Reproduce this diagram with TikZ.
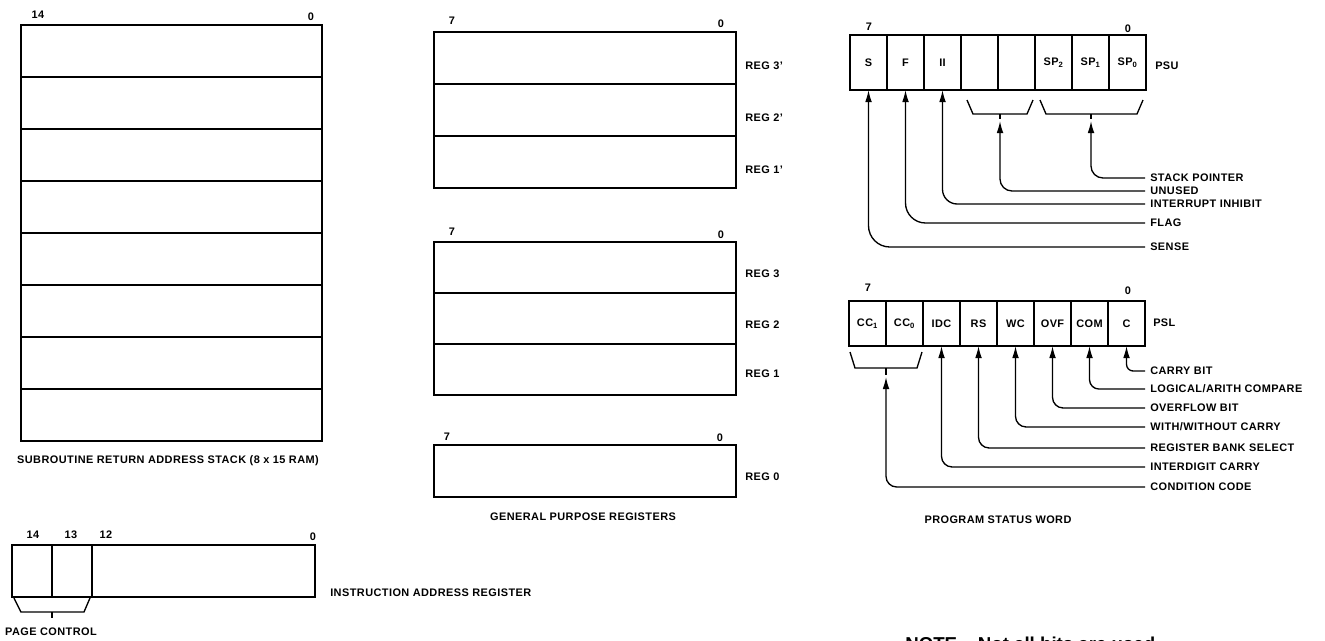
\documentclass[tikz,border=0pt]{standalone}
\usepackage{fontspec}
\setmainfont{Liberation Sans}
\newfontfamily\labfont[LetterSpace=4]{Liberation Sans}
\usetikzlibrary{arrows.meta}
\begin{document}
\begin{tikzpicture}[x=0.75pt,y=-0.75pt,
  lab/.style={font=\labfont\bfseries\fontsize{8.2}{9.6}\selectfont, inner sep=0pt},
  rl/.style={lab, anchor=west, inner xsep=3.75pt},
  cell/.style={draw, line width=1.5pt, inner sep=0pt, outer sep=0pt, anchor=north west,
    font=\labfont\bfseries\fontsize{8.2}{9.6}\selectfont},
  conn/.style={line width=1pt},
  arr/.style={conn, -{Latex[length=9pt,width=5pt]}},
  ]
\useasboundingbox (0,0) rectangle (1325,640);
\clip (0,0) rectangle (1325,640);

% ---------- subroutine return address stack ----------
\foreach \k in {0,...,7}
  \node[cell, minimum width=225.75pt, minimum height=39pt] (st\k) at (21,{25+52*\k}) {};
\node[lab] (stb14) at (38,15) {14};
\node[lab] (stb0) at (311,17) {0};
\node[lab] (stcap) at (168,461) {SUBROUTINE RETURN ADDRESS STACK (8 x 15 RAM)};

% ---------- instruction address register ----------
\node[cell, minimum width=30pt, minimum height=39pt] (ia14) at (12,545) {};
\node[cell, minimum width=30pt, minimum height=39pt] (ia13) at (52,545) {};
\node[cell, minimum width=167.25pt, minimum height=39pt] (ia12) at (92,545) {};
\node[lab] (iab14) at (33,535) {14};
\node[lab] (iab13) at (71,535) {13};
\node[lab] (iab12) at (106,535) {12};
\node[lab] (iab0) at (313,537) {0};
\node[lab, anchor=west] (iarlab) at (330,593) {INSTRUCTION ADDRESS REGISTER};
\draw[conn] (14,598) -- (21,612) -- (84,612) -- (90,598);
\coordinate (pcc) at (52,618);
\draw[conn] (52,612) -- (pcc);
\node[lab] (pclab) at (51,632) {PAGE CONTROL};

% ---------- general purpose registers ----------
\node[cell, minimum width=226.5pt, minimum height=39pt] (r3p) at (434,32) {};
\node[cell, minimum width=226.5pt, minimum height=39pt] (r2p) at (434,84) {};
\node[cell, minimum width=226.5pt, minimum height=39pt] (r1p) at (434,136) {};
\node[lab] (g1b7) at (452,21) {7};
\node[lab] (g1b0) at (721,24) {0};
\node[lab, anchor=west] (lr3p) at (745,66) {REG 3’};
\node[lab, anchor=west] (lr2p) at (745,118) {REG 2’};
\node[lab, anchor=west] (lr1p) at (745,170) {REG 1’};

\node[cell, minimum width=226.5pt, minimum height=38.25pt] (r3) at (434,242) {};
\node[cell, minimum width=226.5pt, minimum height=38.25pt] (r2) at (434,293) {};
\node[cell, minimum width=226.5pt, minimum height=38.25pt] (r1) at (434,344) {};
\node[lab] (g2b7) at (452,232) {7};
\node[lab] (g2b0) at (721,235) {0};
\node[lab, anchor=west] (lr3) at (745,274) {REG 3};
\node[lab, anchor=west] (lr2) at (745,325) {REG 2};
\node[lab, anchor=west] (lr1) at (745,374) {REG 1};

\node[cell, minimum width=226.5pt, minimum height=39pt] (r0) at (434,445) {};
\node[lab] (g3b7) at (447,437) {7};
\node[lab] (g3b0) at (720,438) {0};
\node[lab, anchor=west] (lr0) at (745,477) {REG 0};
\node[lab] (gpcap) at (583,517) {GENERAL PURPOSE REGISTERS};

% ---------- PSU ----------
\node[cell, minimum width=27.75pt, minimum height=41.25pt] (u7) at (850,35) {S};
\node[cell, minimum width=27.75pt, minimum height=41.25pt] (u6) at (887,35) {F};
\node[cell, minimum width=27.75pt, minimum height=41.25pt] (u5) at (924,35) {II};
\node[cell, minimum width=27.75pt, minimum height=41.25pt] (u4) at (961,35) {};
\node[cell, minimum width=27.75pt, minimum height=41.25pt] (u3) at (998,35) {};
\node[cell, minimum width=27.75pt, minimum height=41.25pt] (u2) at (1035,35) {SP\textsubscript{2}};
\node[cell, minimum width=27.75pt, minimum height=41.25pt] (u1) at (1072,35) {SP\textsubscript{1}};
\node[cell, minimum width=27.75pt, minimum height=41.25pt] (u0) at (1109,35) {SP\textsubscript{0}};
\node[lab] (ub7) at (869,27) {7};
\node[lab] (ub0) at (1128,29) {0};
\node[lab, anchor=west] (psulab) at (1155,66) {PSU};

\node[rl] (lsp) at (1145,178) {STACK POINTER};
\node[rl] (lun) at (1145,191) {UNUSED};
\node[rl] (lii) at (1145,204) {INTERRUPT INHIBIT};
\node[rl] (lfl) at (1145,223) {FLAG};
\node[rl] (lse) at (1145,247) {SENSE};

\draw[conn] (967,100) -- (973,114) -- (1027,114) -- (1033,100);
\coordinate (bun) at (1000,121);
\draw[conn] (1000,114) -- (1000,119);
\draw[conn] (1040,100) -- (1046,114) -- (1137,114) -- (1143,100);
\coordinate (bsp) at (1091,121);
\draw[conn] (1091,114) -- (1091,119);

\draw[arr, rounded corners=16pt] (lse.west) -| (u7.south);
\draw[arr, rounded corners=15pt] (lfl.west) -| (u6.south);
\draw[arr, rounded corners=11pt] (lii.west) -| (u5.south);
\draw[arr, rounded corners=9pt] (lun.west) -| (bun);
\draw[arr, rounded corners=9pt] (lsp.west) -| (bsp);

% ---------- PSL ----------
\node[cell, minimum width=27.75pt, minimum height=33.75pt] (l7) at (849,301) {CC\textsubscript{1}};
\node[cell, minimum width=27.75pt, minimum height=33.75pt] (l6) at (886,301) {CC\textsubscript{0}};
\node[cell, minimum width=27.75pt, minimum height=33.75pt] (l5) at (923,301) {IDC};
\node[cell, minimum width=27.75pt, minimum height=33.75pt] (l4) at (960,301) {RS};
\node[cell, minimum width=27.75pt, minimum height=33.75pt] (l3) at (997,301) {WC};
\node[cell, minimum width=27.75pt, minimum height=33.75pt] (l2) at (1034,301) {OVF};
\node[cell, minimum width=27.75pt, minimum height=33.75pt] (l1) at (1071,301) {COM};
\node[cell, minimum width=27.75pt, minimum height=33.75pt] (l0) at (1108,301) {C};
\node[lab] (lb7) at (868,288) {7};
\node[lab] (lb0) at (1128,291) {0};
\node[lab, anchor=west] (psllab) at (1153,323) {PSL};

\draw[conn] (850,352) -- (855,368) -- (917,368) -- (922,352);
\coordinate (bcc) at (886,377);
\draw[conn] (886,368) -- (886,375);

\node[rl] (lcb) at (1145,371) {CARRY BIT};
\node[rl] (llc) at (1145,389) {LOGICAL/ARITH COMPARE};
\node[rl] (lob) at (1145,408) {OVERFLOW BIT};
\node[rl] (lwc) at (1145,427) {WITH/WITHOUT CARRY};
\node[rl] (lrb) at (1145,448) {REGISTER BANK SELECT};
\node[rl] (lic) at (1145,467) {INTERDIGIT CARRY};
\node[rl] (lcc) at (1145,487) {CONDITION CODE};

\draw[arr, rounded corners=5pt] (lcb.west) -| (l0.south);
\draw[arr, rounded corners=7pt] (llc.west) -| (l1.south);
\draw[arr, rounded corners=8pt] (lob.west) -| (l2.south);
\draw[arr, rounded corners=8pt] (lwc.west) -| (l3.south);
\draw[arr, rounded corners=8pt] (lrb.west) -| (l4.south);
\draw[arr, rounded corners=8pt] (lic.west) -| (l5.south);
\draw[arr, rounded corners=8pt] (lcc.west) -| (bcc);

\node[lab] (pswcap) at (998,520) {PROGRAM STATUS WORD};

% ---------- note (cut off at the lower edge, as in the reference) ----------
\node[font=\bfseries\fontsize{14}{16}\selectfont, anchor=base west, inner sep=0pt] (note) at (905,650) {NOTE -- Not all bits are used};
\end{tikzpicture}
\end{document}
